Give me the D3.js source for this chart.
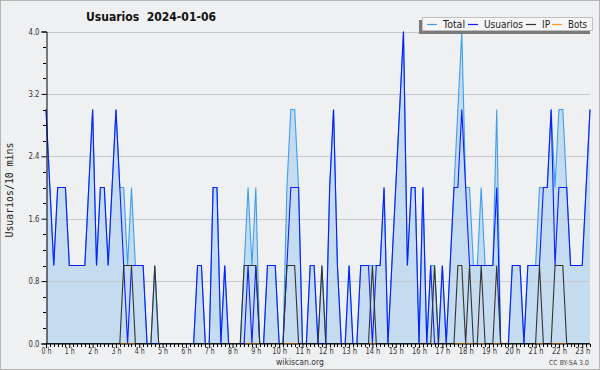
<!DOCTYPE html>
<html><head><meta charset="utf-8">
<script src="https://cdn.jsdelivr.net/npm/d3@7"></script>
<style>body{margin:0;background:#fff}svg{display:block}</style>
</head><body><svg id="c" width="600" height="370"></svg>
<script>
// 10-minute slots (0:00 onward)
const usuarios = [
 3,2,1,2,2,2,1,1,1,1,1,2,
 3,1,2,2,1,2,3,2,1,0,1,1,
 1,1,0,0,0,0,0,0,0,0,0,0,
 0,0,0,1,1,0,0,2,2,0,1,0,
 0,0,0,0,1,0,1,0,0,1,1,1,
 0,0,1,2,2,2,0,0,1,1,0,0,
 0,2,3,1,0,0,1,0,0,1,1,1,
 0,1,1,2,0,1,2,3,4,1,2,2,
 0,2,0,1,0,0,1,0,1,2,2,3,
 2,1,1,1,1,1,1,1,2,0,0,0,
 1,1,1,0,1,1,1,1,2,2,3,1,
 2,2,2,1,1,1,1,2,3];
const ip = [
 0,0,0,0,0,0,0,0,0,0,0,0,
 0,0,0,0,0,0,0,0,1,1,1,0,
 0,0,0,0,1,0,0,0,0,0,0,0,
 0,0,0,0,0,0,0,0,0,0,0,0,
 0,0,0,1,1,1,1,0,0,0,0,0,
 0,0,1,1,1,0,0,0,0,0,0,1,
 0,0,0,0,0,0,0,0,0,0,0,0,
 1,0,0,0,0,0,0,0,0,0,0,0,
 0,0,0,0,1,0,0,0,0,0,1,1,
 0,1,0,0,1,0,0,0,1,0,0,0,
 0,0,0,0,0,0,0,1,0,0,0,1,
 1,1,0,0,0,0,0,0,0];
const total = [
 3,2,1,2,2,2,1,1,1,1,1,2,
 3,1,2,2,1,2,3,2,2,1,2,1,
 1,1,0,0,1,0,0,0,0,0,0,0,
 0,0,0,1,1,0,0,2,2,0,1,0,
 0,0,0,1,2,1,2,0,0,1,1,1,
 0,0,2,3,3,2,0,0,1,1,0,1,
 0,2,3,1,0,0,1,0,0,1,1,1,
 1,1,1,2,0,1,2,3,4,1,2,2,
 0,2,0,1,1,0,1,0,1,2,3,4,
 2,2,1,1,2,1,1,1,3,0,0,0,
 1,1,1,0,1,1,1,2,2,2,3,2,
 3,3,2,1,1,1,1,2,3];
const bots = [
 0,0,0,0,0,0,0,0,0,0,0,0,
 0,0,0,0,0,0,0,0,0,0,0,0,
 0,0,0,0,0,0,0,0,0,0,0,0,
 0,0,0,0,0,0,0,0,0,0,0,0,
 0,0,0,0,0,0,0,0,0,0,0,0,
 0,0,0,0,0,0,0,0,0,0,0,0,
 0,0,0,0,0,0,0,0,0,0,0,0,
 0,0,0,0,0,0,0,0,0,0,0,0,
 0,0,0,0,0,0,0,0,0,0,0,0,
 0,0,0,0,0,0,0,0,0,0,0,0,
 0,0,0,0,0,0,0,0,0,0,0,0,
 0,0,0,0,0,0,0,0,0];
const hourLabels = ["0 h","1 h","2 h","3 h","4 h","5 h","6 h","7 h","8 h","9 h","10 h","11 h",
 "12 h","13 h","14 h","15 h","16 h","17 h","18 h","19 h","20 h","21 h","22 h","23 h"];
const yTicks = [0.0, 0.8, 1.6, 2.4, 3.2, 4.0];
const seriesNames = ["Total","Usuarios","IP","Bots"];
const seriesColors = ["#3d9ff0","#0a1eff","#333333","#ffa010"];
const titleText = "Usuarios  2024-01-06";
const yTitle = "Usuarios/10 mins";

const svg = d3.select("#c");
const W = 600, H = 370;
const L = 46, R = 590, T = 31.5, B = 343.5;
svg.append("rect").attr("x",0.5).attr("y",0.5).attr("width",W-1).attr("height",H-1)
  .attr("fill","#eff0f1").attr("stroke","#b4b4b4");

const n = usuarios.length;
const x = d3.scaleLinear().domain([0, n-1]).range([L, R]);
const y = d3.scaleLinear().domain([0, 4]).range([B, T]);

// area fill of total
svg.append("path").datum(total)
  .attr("d", d3.area().x((d,i)=>x(i)).y0(y(0)).y1(d=>y(d)))
  .attr("fill","#c5dcf0");

// gridlines
svg.append("g").selectAll("line").data(yTicks.slice(1)).join("line")
  .attr("x1",L).attr("x2",R).attr("y1",d=>Math.round(y(d))+0.5).attr("y2",d=>Math.round(y(d))+0.5)
  .attr("stroke","#c8c8cc").attr("stroke-width",1);

const line = d3.line().x((d,i)=>x(i)).y(d=>y(d));
const series = [total, usuarios, ip, bots];
[3,0,1,2].forEach(k=>{
  svg.append("path").datum(series[k]).attr("d",line)
    .attr("fill","none").attr("stroke",seriesColors[k]).attr("stroke-width",1.1)
    .attr("stroke-linejoin","miter");
});

// y axis
const yAxis = d3.axisLeft(y).tickValues(yTicks).tickFormat(d3.format(".1f")).tickSize(5).tickPadding(2);
const gy = svg.append("g").attr("transform",`translate(${L+0.5},0)`).call(yAxis);
gy.select(".domain").attr("stroke","#000");
gy.selectAll(".tick line").attr("stroke","#000");
gy.selectAll("text").attr("font-family","DejaVu Sans").attr("font-size","8px").attr("fill","#333")
  .attr("textLength",11).attr("lengthAdjust","spacingAndGlyphs");
const yMinor = d3.range(0, 21).map(k=>k*0.2).filter(v=>!yTicks.some(t=>Math.abs(t-v)<1e-6));
svg.append("g").selectAll("line").data(yMinor).join("line")
  .attr("x1",L-3).attr("x2",L).attr("y1",d=>Math.round(y(d))+0.5).attr("y2",d=>Math.round(y(d))+0.5)
  .attr("stroke","#000");

// x axis
const hourIdx = d3.range(0, hourLabels.length).map(h=>h*6);
const xAxis = d3.axisBottom(x).tickValues(hourIdx).tickFormat(i=>hourLabels[i/6]).tickSize(4).tickPadding(0);
const gx = svg.append("g").attr("transform",`translate(0,${B+0.5})`).call(xAxis);
gx.select(".domain").attr("stroke","#000").attr("d",`M${L},0H${R}`);
gx.selectAll(".tick line").attr("stroke","#000");
gx.selectAll("text").attr("font-family","DejaVu Sans").attr("font-size","9px").attr("fill","#333").attr("dy","0.71em")
  .attr("textLength",i=>hourLabels[i/6].length>3?15:10).attr("lengthAdjust","spacingAndGlyphs");
svg.append("g").selectAll("line").data(d3.range(0,n).filter(i=>i%6!==0)).join("line")
  .attr("x1",d=>Math.round(x(d))+0.5).attr("x2",d=>Math.round(x(d))+0.5)
  .attr("y1",B+0.5).attr("y2",B+3.5).attr("stroke","#000");

// title
svg.append("text").attr("x",86).attr("y",21).text(titleText).style("white-space","pre")
  .attr("font-family","DejaVu Sans").attr("font-weight","bold").attr("font-size","12px").attr("fill","#111")
  .attr("textLength",130).attr("lengthAdjust","spacingAndGlyphs");

// y title
svg.append("text").attr("transform","translate(13,190) rotate(-90)").attr("text-anchor","middle")
  .text(yTitle).attr("font-family","DejaVu Sans Mono").attr("font-size","10px").attr("fill","#222")
  .attr("textLength",95).attr("lengthAdjust","spacingAndGlyphs");

// legend
svg.append("rect").attr("x",419).attr("y",20).attr("width",171).attr("height",14).attr("fill","#7a7a7a");
svg.append("rect").attr("x",422.5).attr("y",17.5).attr("width",170).attr("height",13).attr("fill","#f6f6f6").attr("stroke","#c0c0c0");
const legX = [427, 468, 526, 552];
const legTW = [22, 39, 8, 19];
seriesNames.forEach((s,k)=>{
  svg.append("line").attr("x1",legX[k]).attr("x2",legX[k]+10).attr("y1",24.5).attr("y2",24.5)
    .attr("stroke",seriesColors[k]).attr("stroke-width",1.2);
  svg.append("text").attr("x",legX[k]+16).attr("y",28).text(s)
    .attr("font-family","DejaVu Sans").attr("font-size","10px").attr("fill","#222")
    .attr("textLength",legTW[k]).attr("lengthAdjust","spacingAndGlyphs");
});

// footer
svg.append("text").attr("x",300).attr("y",365).attr("text-anchor","middle").text("wikiscan.org")
  .attr("font-family","DejaVu Sans").attr("font-size","9px").attr("fill","#333")
  .attr("textLength",48).attr("lengthAdjust","spacingAndGlyphs");
svg.append("text").attr("x",589).attr("y",365).attr("text-anchor","end").text("CC BY-SA 3.0")
  .attr("font-family","DejaVu Sans").attr("font-size","7px").attr("fill","#444")
  .attr("textLength",40).attr("lengthAdjust","spacingAndGlyphs");
</script></body></html>
